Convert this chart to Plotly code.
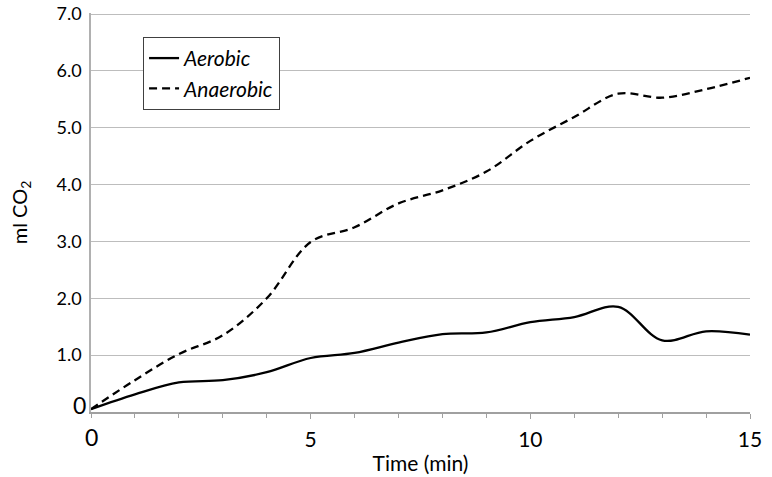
import plotly.graph_objects as go

time_min = [0, 1, 2, 3, 4, 5, 6, 7, 8, 9, 10, 11, 12, 13, 14, 15]
aerobic = [0.05, 0.31, 0.52, 0.56, 0.70, 0.95, 1.04, 1.22, 1.37, 1.40, 1.58, 1.67, 1.85, 1.26, 1.42, 1.36]
anaerobic = [0.05, 0.56, 1.02, 1.35, 2.00, 2.99, 3.25, 3.67, 3.90, 4.23, 4.77, 5.19, 5.60, 5.53, 5.68, 5.88]

y_ticks = [1, 2, 3, 4, 5, 6, 7]
y_ticktext = ["1.0", "2.0", "3.0", "4.0", "5.0", "6.0", "7.0"]
x_ticks = [5, 10, 15]
x_ticktext = ["5", "10", "15"]

FONT = "Lato, 'Open Sans', sans-serif"

fig = go.Figure()
fig.add_trace(go.Scatter(
    x=time_min, y=aerobic, name="<i>Aerobic</i>", mode="lines",
    line=dict(color="black", width=2.3, shape="spline", smoothing=1.0),
))
fig.add_trace(go.Scatter(
    x=time_min, y=anaerobic, name="<i>Anaerobic</i>", mode="lines",
    line=dict(color="black", width=2.3, shape="spline", smoothing=1.0, dash="8px,5px"),
))

fig.update_layout(
    width=772, height=477,
    margin=dict(l=91, r=22, t=13, b=65, autoexpand=False),
    paper_bgcolor="white", plot_bgcolor="white",
    font=dict(family=FONT, color="black"),
    showlegend=True,
    legend=dict(
        x=0.079, y=0.94, xanchor="left", yanchor="top",
        bgcolor="white", bordercolor="#404040", borderwidth=1,
        font=dict(size=21, family=FONT, color="black"),
        itemwidth=30, tracegroupgap=4,
    ),
    xaxis=dict(
        range=[0, 15], tickvals=x_ticks, ticktext=x_ticktext, automargin=False,
        tickfont=dict(size=21), ticks="outside", ticklen=5, tickcolor="#a0a0a0",
        ticklabelstandoff=3, ticklabeloverflow="allow",
        showline=True, linecolor="#a0a0a0", linewidth=1.5,
        showgrid=False, zeroline=False,
        minor=dict(dtick=1, ticks="outside", ticklen=4, tickcolor="#a0a0a0", showgrid=False),
        title=dict(text="Time (min)", font=dict(size=21), standoff=6),
    ),
    yaxis=dict(
        range=[0, 7.02], tickvals=y_ticks, ticktext=y_ticktext, automargin=False,
        tickfont=dict(size=18), ticks="", ticklabelstandoff=4, ticklabeloverflow="allow",
        showline=True, linecolor="#b0b0b0", linewidth=1.5,
        showgrid=True, gridcolor="#bdbdbd", gridwidth=1.3,
        zeroline=False,
        title=dict(text="ml CO<sub>2</sub>", font=dict(size=20), standoff=24),
    ),
)

# larger "0" labels at the origin, as in the reference
fig.add_annotation(x=0, y=0, xref="x", yref="y", text="0", showarrow=False,
                   font=dict(size=23, family=FONT, color="black"),
                   xanchor="right", yanchor="middle", xshift=-3, yshift=7)
fig.add_annotation(x=0, y=0, xref="x", yref="y", text="0", showarrow=False,
                   font=dict(size=23, family=FONT, color="black"),
                   xanchor="center", yanchor="top", yshift=-9)

fig.write_html("out.html", config={"displayModeBar": False},
               post_script="document.body.style.margin='0';document.body.style.overflow='hidden';")
